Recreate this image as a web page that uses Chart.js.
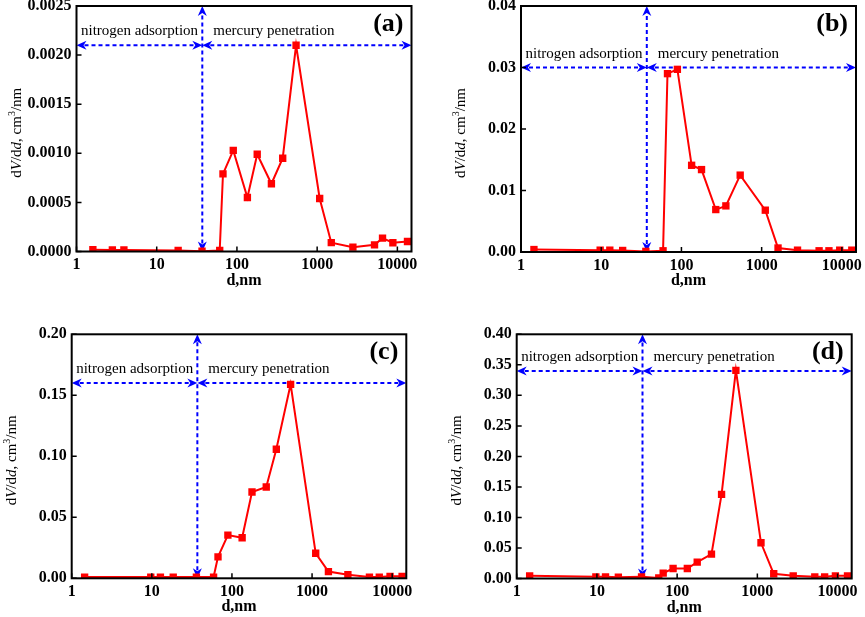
<!DOCTYPE html>
<html><head><meta charset="utf-8">
<script src="https://cdn.jsdelivr.net/npm/chart.js@4.4.0/dist/chart.umd.min.js"></script>
<style>
html,body{margin:0;padding:0;background:#fff;width:865px;height:617px;overflow:hidden;position:relative}
canvas{position:absolute}
</style></head><body>
<canvas id="ca"></canvas><canvas id="cb"></canvas><canvas id="cc"></canvas><canvas id="cd"></canvas>
<script>
// ---- data ----
const xTicks = [1, 10, 100, 1000, 10000];
const dA = [1.6, 2.8, 3.9, 18.5, 36.7, 61, 67, 90, 135, 179, 269, 372, 546, 1075, 1500, 2790, 5190, 6530, 8790, 13370];
const vA = [0.000018, 0.000015, 0.000015, 0.00001, 0.000003, 0.00001, 0.00079, 0.00103, 0.00055, 0.00099, 0.00069, 0.00095, 0.0021, 0.00054, 0.00009, 0.000044, 0.000068, 0.000136, 0.000089, 0.000102];
const dBCD = [1.45, 9.7, 12.8, 18.5, 36, 59, 67, 89, 134, 178, 268, 358, 540, 1110, 1600, 2800, 5200, 6900, 9400, 13300];
const vB = [0.0004, 0.0003, 0.0003, 0.00025, 0.0001, 0.0002, 0.029, 0.0297, 0.0141, 0.0134, 0.0069, 0.0075, 0.0125, 0.0068, 0.00065, 0.0003, 0.0002, 0.0002, 0.0003, 0.0003];
const vC = [0.001, 0.001, 0.001, 0.001, 0.001, 0.001, 0.0176, 0.0354, 0.0332, 0.0707, 0.0748, 0.1058, 0.159, 0.0205, 0.0055, 0.003, 0.001, 0.001, 0.0016, 0.0016];
const vD = [0.0044, 0.0027, 0.0027, 0.002, 0.0027, 0.001, 0.0087, 0.0164, 0.0164, 0.0268, 0.040, 0.1377, 0.341, 0.0585, 0.0077, 0.0044, 0.0027, 0.0027, 0.0044, 0.0044];
const yTicksA = [0, 0.0005, 0.0010, 0.0015, 0.0020, 0.0025];
const yTicksB = [0, 0.01, 0.02, 0.03, 0.04];
const yTicksC = [0, 0.05, 0.10, 0.15, 0.20];
const yTicksD = [0, 0.05, 0.10, 0.15, 0.20, 0.25, 0.30, 0.35, 0.40];
const boundaryD = 37;           // nm, limit between the two methods
const arrowLevels = [0.0021, 0.030, 0.16, 0.34];
const panelLabels = ['(a)', '(b)', '(c)', '(d)'];
const leftText = 'nitrogen adsorption';
const rightText = 'mercury penetration';
const xTitle = 'd,nm';

// ---- layout (page px) ----
const panels = [
  {id:'ca', cx:0,   cy:0,   cw:432, ch:300, L:76.5, T:6,     R:411.5, B:251.5, d:dA,   v:vA, yt:yTicksA, dec:4},
  {id:'cb', cx:432, cy:0,   cw:433, ch:300, L:521,  T:6,     R:856,   B:252,   d:dBCD, v:vB, yt:yTicksB, dec:2},
  {id:'cc', cx:0,   cy:300, cw:432, ch:317, L:71.7, T:334.3, R:406.3, B:578.3, d:dBCD, v:vC, yt:yTicksC, dec:2},
  {id:'cd', cx:432, cy:300, cw:433, ch:317, L:516.7,T:334.3, R:851.7, B:578.5, d:dBCD, v:vD, yt:yTicksD, dec:2}
];

const SERIF = "'Liberation Serif', 'Times New Roman', serif";
const BLUE = '#0000ff';

function head(ctx, x, y, dx, dy) {
  const Lh = 10, W = 4.5;
  const bx = x - dx * Lh, by = y - dy * Lh, px = -dy, py = dx;
  ctx.beginPath();
  ctx.moveTo(x, y);
  ctx.lineTo(bx + px * W, by + py * W);
  ctx.lineTo(x - dx * Lh * 0.7, y - dy * Lh * 0.7);
  ctx.lineTo(bx - px * W, by - py * W);
  ctx.closePath();
  ctx.fill();
}
function dashed(ctx, x1, y1, x2, y2) {
  ctx.save();
  ctx.setLineDash([4, 3]);
  ctx.beginPath(); ctx.moveTo(x1, y1); ctx.lineTo(x2, y2); ctx.stroke();
  ctx.restore();
}

panels.forEach((p, i) => {
  const cv = document.getElementById(p.id);
  cv.width = p.cw; cv.height = p.ch;
  cv.style.left = p.cx + 'px'; cv.style.top = p.cy + 'px';
  const ymax = p.yt[p.yt.length - 1];

  const deco = {
    id: 'deco' + i,
    beforeDatasetsDraw(chart) {
      const ctx = chart.ctx, a = chart.chartArea;
      const xs = chart.scales.x, ys = chart.scales.y;
      const X = xs.getPixelForValue(boundaryD);
      const Y = ys.getPixelForValue(arrowLevels[i]);
      ctx.save();
      ctx.strokeStyle = BLUE; ctx.fillStyle = BLUE; ctx.lineWidth = 2;
      // vertical
      dashed(ctx, X, a.bottom - 8, X, a.top + 8);
      head(ctx, X, a.top, 0, -1);
      head(ctx, X, a.bottom, 0, 1);
      // left horizontal
      dashed(ctx, a.left + 8, Y, X - 8, Y);
      head(ctx, a.left, Y, -1, 0);
      head(ctx, X, Y, 1, 0);
      // right horizontal
      dashed(ctx, X + 8, Y, a.right - 8, Y);
      head(ctx, X, Y, -1, 0);
      head(ctx, a.right, Y, 1, 0);
      // texts
      ctx.fillStyle = '#000';
      ctx.font = '15px ' + SERIF;
      ctx.textBaseline = 'alphabetic';
      ctx.textAlign = 'left';
      ctx.fillText(leftText, a.left + 4.5, Y - 10);
      ctx.fillText(rightText, X + 11, Y - 10);
      ctx.restore();
    },
    afterDatasetsDraw(chart) {
      const ctx = chart.ctx, a = chart.chartArea;
      const xs = chart.scales.x, ys = chart.scales.y;
      ctx.save();
      ctx.strokeStyle = '#000'; ctx.lineWidth = 2;
      ctx.strokeRect(a.left, a.top, a.right - a.left, a.bottom - a.top);
      ctx.lineWidth = 1.5;
      ctx.beginPath();
      xTicks.forEach(t => { const x = xs.getPixelForValue(t); ctx.moveTo(x, a.bottom); ctx.lineTo(x, a.bottom - 5); });
      p.yt.forEach(t => { const y = ys.getPixelForValue(t); ctx.moveTo(a.left, y); ctx.lineTo(a.left + 5, y); });
      ctx.stroke();
      // panel label
      ctx.fillStyle = '#000';
      ctx.font = 'bold 26px ' + SERIF;
      ctx.textAlign = 'right'; ctx.textBaseline = 'middle';
      ctx.fillText(panelLabels[i], a.right - 8, a.top + 18);
      // x title
      ctx.font = 'bold 16px ' + SERIF;
      ctx.textAlign = 'center';
      ctx.fillText(xTitle, (a.left + a.right) / 2, a.bottom + 29);
      // y title with italics
      const segs = [
        {t:'d', f:'15px'}, {t:'V', f:'italic 15px'}, {t:'/d', f:'15px'}, {t:'d', f:'italic 15px'},
        {t:', cm', f:'15px'}, {t:'3', f:'10px', sup:true}, {t:'/nm', f:'15px'}
      ];
      let total = 0;
      segs.forEach(s => { ctx.font = s.f + ' ' + SERIF; s.w = ctx.measureText(s.t).width; total += s.w; });
      ctx.translate(a.left - 61, (a.top + a.bottom) / 2 + 4);
      ctx.rotate(-Math.PI / 2);
      ctx.textAlign = 'left'; ctx.textBaseline = 'alphabetic';
      let x = -total / 2;
      segs.forEach(s => {
        ctx.font = s.f + ' ' + SERIF;
        ctx.fillText(s.t, x, s.sup ? 5 - 6 : 5);
        x += s.w;
      });
      ctx.restore();
    }
  };

  new Chart(cv, {
    type: 'line',
    data: {
      datasets: [{
        data: p.d.map((d, k) => ({x: d, y: p.v[k]})),
        borderColor: '#ff0000', backgroundColor: '#ff0000',
        borderWidth: 2, tension: 0,
        pointStyle: 'rect', pointRadius: 5.2, pointBorderWidth: 0,
        pointBackgroundColor: '#ff0000'
      }]
    },
    options: {
      responsive: false, animation: false, devicePixelRatio: 1,
      layout: {padding: {left: 0, top: p.T - p.cy, right: p.cx + p.cw - p.R, bottom: 0}},
      plugins: {legend: {display: false}, tooltip: {enabled: false}},
      scales: {
        x: {
          type: 'logarithmic', min: 1, max: 15000,
          afterBuildTicks: s => { s.ticks = xTicks.map(v => ({value: v})); },
          afterFit: s => { s.height = p.cy + p.ch - p.B; s.paddingLeft = 0; s.paddingRight = 0; },
          grid: {display: false, drawTicks: false}, border: {display: false},
          ticks: {autoSkip: false, maxRotation: 0, padding: 4, color: '#000',
                  font: {family: SERIF, size: 16, weight: 'bold'}, callback: v => String(v)}
        },
        y: {
          min: 0, max: ymax,
          afterBuildTicks: s => { s.ticks = p.yt.map(v => ({value: v})); },
          afterFit: s => { s.width = p.L - p.cx; s.paddingTop = 0; s.paddingBottom = 0; },
          grid: {display: false, drawTicks: false}, border: {display: false},
          ticks: {padding: 5, color: '#000', font: {family: SERIF, size: 16, weight: 'bold'},
                  callback: v => Number(v).toFixed(p.dec)}
        }
      }
    },
    plugins: [deco]
  });
});
</script>
</body></html>
